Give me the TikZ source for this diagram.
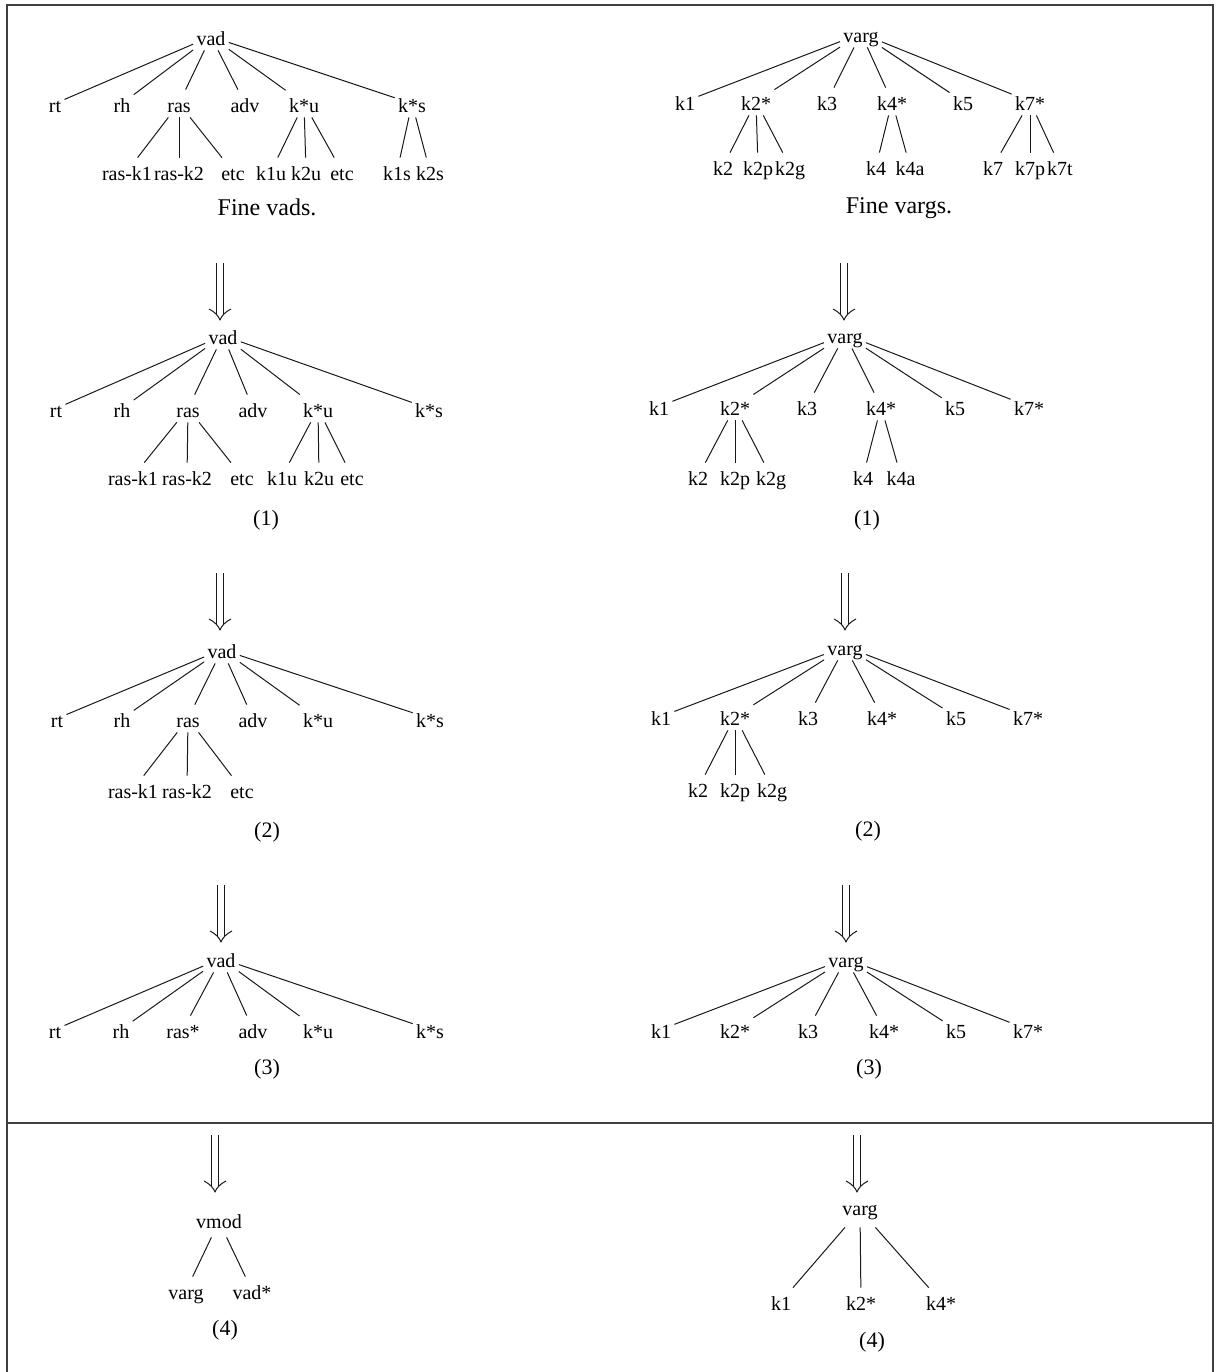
\documentclass[tikz,border=0pt]{standalone}
\usepackage{fontspec}
\setmainfont{Liberation Serif}
\begin{document}
\begin{tikzpicture}[x=0.5pt,y=-0.5pt]
\tikzset{
  lbl/.style={font=\fontsize{10}{12}\selectfont, anchor=base, inner xsep=1.5pt,
              inner ysep=0.5pt, text height=10.5pt, text depth=2pt},
  captxt/.style={font=\fontsize{12}{14}\selectfont, anchor=base, inner sep=0pt},
  stepnum/.style={font=\fontsize{11}{13}\selectfont, anchor=base, inner sep=0pt},
  branch/.style={line width=0.5pt, black!90},
  outline/.style={line width=0.9pt, black!75},
  dnarrow/.pic={
    \draw[branch] (-3.5,0) -- (-3.5,52) (3.5,0) -- (3.5,52);
    \draw[branch, line join=round] (-11,46) .. controls (-5,49) and (-1.5,53) .. (0,57)
      .. controls (1.5,53) and (5,49) .. (11,46);
  }
}
\useasboundingbox (0,0) rectangle (1220,1372);

% outer frame, open at the bottom, and the divider
\draw[outline] (7,1372) -- (7,5) -- (1213,5) -- (1213,1372);
\draw[outline] (7,1123) -- (1213,1123);

% ---------------- fine vads ----------------
\node[lbl] (a) at (211,45) {vad};
\foreach \n/\x/\t in {rt/55/rt, rh/122/rh, ras/179/ras, adv/245/adv, ku/304/k*u, ks/412/k*s}
  { \node[lbl] (a-\n) at (\x,112) {\t}; \draw[branch] (a) -- (a-\n); }
\foreach \p/\n/\x/\t in {ras/1/127/ras-k1, ras/2/179/ras-k2, ras/3/233/etc,
                         ku/1/271/k1u, ku/2/306/k2u, ku/3/342/etc,
                         ks/1/397/k1s, ks/2/430/k2s}
  { \node[lbl] (a-\p\n) at (\x,180) {\t}; \draw[branch] (a-\p) -- (a-\p\n); }
\node[captxt] (a-cap) at (267,215) {Fine vads.};

% ---------------- fine vargs ----------------
\node[lbl] (b) at (861,42) {varg};
\foreach \n/\x/\t in {k1/685/k1, k2/756/k2*, k3/827/k3, k4/892/k4*, k5/963/k5, k7/1030/k7*}
  { \node[lbl] (b-\n) at (\x,110) {\t}; \draw[branch] (b) -- (b-\n); }
\foreach \p/\n/\x/\t in {k2/1/723/k2, k2/2/758/k2p, k2/3/790/k2g,
                         k4/1/876/k4, k4/2/910/k4a,
                         k7/1/993/k7, k7/2/1030/k7p, k7/3/1060/k7t}
  { \node[lbl] (b-\p\n) at (\x,175) {\t}; \draw[branch] (b-\p) -- (b-\p\n); }
\node[captxt] (b-cap) at (899,213) {Fine vargs.};

% ---------------- step (1) ----------------
\coordinate (c-in) at (220,263); \pic at (c-in) {dnarrow};
\node[lbl] (c) at (223,344) {vad};
\foreach \n/\x/\t in {rt/56/rt, rh/122/rh, ras/188/ras, adv/253/adv, ku/318/k*u, ks/429/k*s}
  { \node[lbl] (c-\n) at (\x,417) {\t}; \draw[branch] (c) -- (c-\n); }
\foreach \p/\n/\x/\t in {ras/1/133/ras-k1, ras/2/187/ras-k2, ras/3/242/etc,
                         ku/1/282/k1u, ku/2/319/k2u, ku/3/352/etc}
  { \node[lbl] (c-\p\n) at (\x,485) {\t}; \draw[branch] (c-\p) -- (c-\p\n); }
\node[stepnum] (c-cap) at (266,525) {(1)};

\coordinate (d-in) at (844,263); \pic at (d-in) {dnarrow};
\node[lbl] (d) at (845,343) {varg};
\foreach \n/\x/\t in {k1/659/k1, k2/735/k2*, k3/807/k3, k4/881/k4*, k5/955/k5, k7/1029/k7*}
  { \node[lbl] (d-\n) at (\x,415) {\t}; \draw[branch] (d) -- (d-\n); }
\foreach \p/\n/\x/\t in {k2/1/698/k2, k2/2/735/k2p, k2/3/771/k2g,
                         k4/1/863/k4, k4/2/901/k4a}
  { \node[lbl] (d-\p\n) at (\x,485) {\t}; \draw[branch] (d-\p) -- (d-\p\n); }
\node[stepnum] (d-cap) at (867,525) {(1)};

% ---------------- step (2) ----------------
\coordinate (e-in) at (220,573); \pic at (e-in) {dnarrow};
\node[lbl] (e) at (222,658) {vad};
\foreach \n/\x/\t in {rt/57/rt, rh/122/rh, ras/188/ras, adv/253/adv, ku/318/k*u, ks/430/k*s}
  { \node[lbl] (e-\n) at (\x,727) {\t}; \draw[branch] (e) -- (e-\n); }
\foreach \p/\n/\x/\t in {ras/1/133/ras-k1, ras/2/187/ras-k2, ras/3/242/etc}
  { \node[lbl] (e-\p\n) at (\x,798) {\t}; \draw[branch] (e-\p) -- (e-\p\n); }
\node[stepnum] (e-cap) at (267,837) {(2)};

\coordinate (f-in) at (845,573); \pic at (f-in) {dnarrow};
\node[lbl] (f) at (845,655) {varg};
\foreach \n/\x/\t in {k1/661/k1, k2/735/k2*, k3/808/k3, k4/882/k4*, k5/956/k5, k7/1028/k7*}
  { \node[lbl] (f-\n) at (\x,725) {\t}; \draw[branch] (f) -- (f-\n); }
\foreach \p/\n/\x/\t in {k2/1/698/k2, k2/2/735/k2p, k2/3/772/k2g}
  { \node[lbl] (f-\p\n) at (\x,797) {\t}; \draw[branch] (f-\p) -- (f-\p\n); }
\node[stepnum] (f-cap) at (868,836) {(2)};

% ---------------- step (3) ----------------
\coordinate (g-in) at (221,885); \pic at (g-in) {dnarrow};
\node[lbl] (g) at (221,967) {vad};
\foreach \n/\x/\t in {rt/55/rt, rh/121/rh, ras/183/ras*, adv/253/adv, ku/318/k*u, ks/430/k*s}
  { \node[lbl] (g-\n) at (\x,1038) {\t}; \draw[branch] (g) -- (g-\n); }
\node[stepnum] (g-cap) at (267,1074) {(3)};

\coordinate (h-in) at (846,885); \pic at (h-in) {dnarrow};
\node[lbl] (h) at (846,967) {varg};
\foreach \n/\x/\t in {k1/661/k1, k2/735/k2*, k3/808/k3, k4/884/k4*, k5/956/k5, k7/1028/k7*}
  { \node[lbl] (h-\n) at (\x,1038) {\t}; \draw[branch] (h) -- (h-\n); }
\node[stepnum] (h-cap) at (869,1074) {(3)};

% ---------------- step (4) ----------------
\coordinate (i-in) at (215,1135); \pic at (i-in) {dnarrow};
\node[lbl, text depth=4pt] (i) at (219,1228) {vmod};
\node[lbl] (i-varg) at (186,1299) {varg};
\node[lbl] (i-vad) at (252,1299) {vad*};
\draw[branch] (i) -- (i-varg);
\draw[branch] (i) -- (i-vad);
\node[stepnum] (i-cap) at (225,1335) {(4)};

\coordinate (j-in) at (857,1135); \pic at (j-in) {dnarrow};
\node[lbl, text depth=5.5pt] (j) at (860,1215) {varg};
\foreach \n/\x/\t in {k1/781/k1, k2/861/k2*, k4/941/k4*}
  { \node[lbl] (j-\n) at (\x,1310) {\t}; \draw[branch] (j) -- (j-\n); }
\node[stepnum] (j-cap) at (872,1347) {(4)};
\end{tikzpicture}
\end{document}
